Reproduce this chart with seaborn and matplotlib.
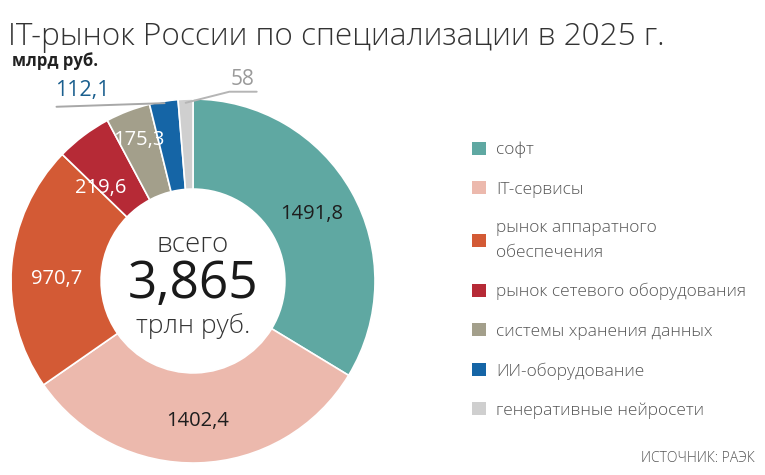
import numpy as np
import seaborn as sns
import matplotlib.pyplot as plt
from matplotlib.patches import Patch

categories = ["софт", "IT-сервисы", "рынок аппаратного\nобеспечения",
              "рынок сетевого оборудования", "системы хранения данных",
              "ИИ-оборудование", "генеративные нейросети"]
values = [1491.8, 1402.4, 970.7, 219.6, 175.3, 112.1, 58]
value_labels = ["1491,8", "1402,4", "970,7", "219,6", "175,3", "112,1", "58"]
colors = ["#5fa8a2", "#ecb9ad", "#d35a35", "#b62a36", "#a39f8b", "#1565a6", "#cfcfcf"]
total_label = "3,865"

sns.set_theme(style="white")
plt.rcParams["font.family"] = ["Open Sans", "DejaVu Sans"]

fig = plt.figure(figsize=(7.65, 4.75), dpi=100)
ax = fig.add_axes([11 / 765, 12 / 475, 364 / 765, 364 / 475])

wedges, _ = ax.pie(values, colors=colors, startangle=90, counterclock=False,
                   radius=1.0, wedgeprops=dict(width=0.495, edgecolor="white", linewidth=1.2))
ax.set_xlim(-1, 1)
ax.set_ylim(-1, 1)
ax.axis("off")

# подписи внутри сегментов
inner_r = [0.75, 0.77, 0.75, 0.72, 0.83]
inner_shift = [0, 0, 4, 8, 0]
inner_col = ["#1e1e1e", "#1e1e1e", "white", "white", "white"]
for w, lab, r, s, c in zip(wedges[:5], value_labels[:5], inner_r, inner_shift, inner_col):
    mid = np.deg2rad((w.theta1 + w.theta2) / 2 + s)
    ax.text(r * np.cos(mid), r * np.sin(mid), lab, ha="center", va="center",
            fontsize=14.5, color=c)

# выноски для маленьких сегментов
w = wedges[5]
mid = np.deg2rad((w.theta1 + w.theta2) / 2)
x0, y0 = 0.97 * np.cos(mid), 0.97 * np.sin(mid)
ax.plot([x0, -0.75], [y0 + 0.02, y0], color="#a8a8a8", lw=1.4, clip_on=False)
ax.text(-0.76, y0 + 0.03, value_labels[5], ha="left", va="bottom", fontsize=15.5,
        color="#1a5f8e")

w = wedges[6]
mid = np.deg2rad((w.theta1 + w.theta2) / 2)
x0, y0 = 0.98 * np.cos(mid), 0.98 * np.sin(mid)
ax.plot([x0, 0.2, 0.35], [y0, 1.04, 1.04], color="#b5b5b5", lw=1.4, clip_on=False)
ax.text(0.27, 1.05, value_labels[6], ha="center", va="bottom", fontsize=15,
        color="#9a9a9a")

# центр
ax.text(0, 0.2, "всего", ha="center", va="center", fontsize=20,
        fontweight="light", color="#333333")
ax.text(0, -0.02, total_label, ha="center", va="center", fontsize=37,
        color="#1a1a1a")
ax.text(0, -0.25, "трлн руб.", ha="center", va="center", fontsize=19,
        fontweight="light", color="#333333")

fig.text(8 / 765, 1 - 45 / 475, "IT-рынок России по специализации в 2025 г.",
         fontsize=22.7, fontweight="light", color="#333333", ha="left", va="baseline")
fig.text(12 / 765, 1 - 66 / 475, "млрд руб.", fontsize=12, fontweight="bold",
         color="#222222", ha="left", va="baseline")

handles = [Patch(facecolor=c, edgecolor="none") for c in colors]
leg = fig.legend(handles, categories, loc="upper left",
                 bbox_to_anchor=(456 / 765, 1 - 126 / 475), frameon=False,
                 fontsize=12.5, labelspacing=1.3, handlelength=0.8,
                 handleheight=0.8, handletextpad=0.6)
for t in leg.get_texts():
    t.set_color("#555555")
    t.set_fontweight("light")
    t.set_linespacing(1.7)

fig.text(755 / 765, 1 - 462 / 475, "ИСТОЧНИК: РАЭК", fontsize=10,
         fontweight="light", color="#555555", ha="right", va="baseline")

fig.savefig("out.png", dpi=100)
